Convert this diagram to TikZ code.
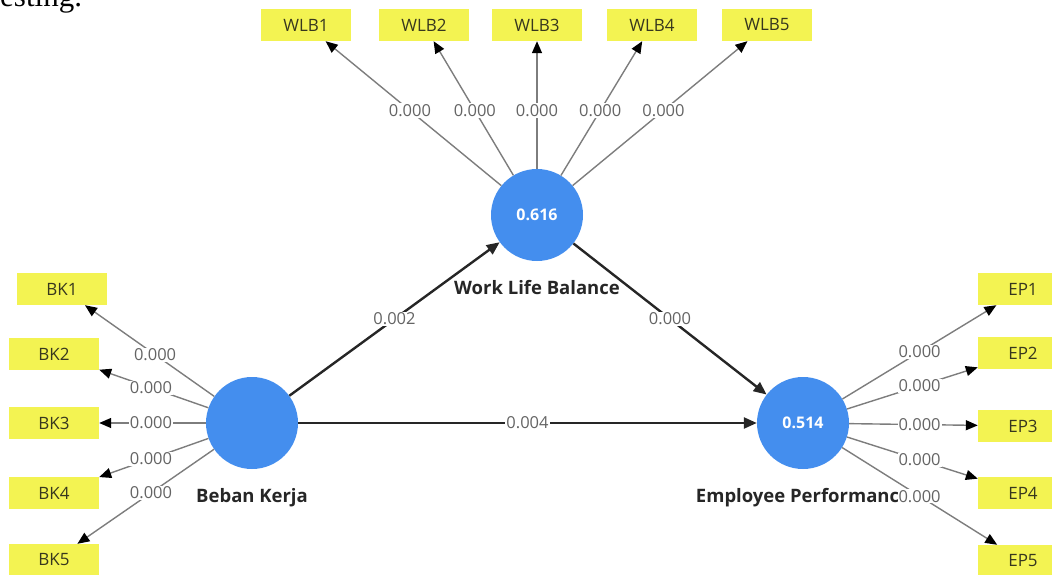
\documentclass[tikz,border=0pt]{standalone}
\usepackage{fontspec}
\setmainfont{Open Sans}
\newfontfamily\serifface{Liberation Serif}
\usetikzlibrary{arrows.meta,calc}
\definecolor{lvblue}{RGB}{68,142,238}
\definecolor{indyellow}{RGB}{243,243,82}
\definecolor{linegray}{RGB}{125,125,125}
\definecolor{lblgray}{RGB}{100,100,100}
\definecolor{textdark}{RGB}{55,55,30}
\begin{document}
\begin{tikzpicture}[x=1pt,y=-1pt,
  lv/.style={circle,fill=lvblue,minimum size=92pt,inner sep=0pt,text=white,font=\bfseries\fontsize{16}{16}\selectfont},
  ind/.style={rectangle,fill=indyellow,minimum width=90pt,minimum height=32pt,inner sep=0pt,text=textdark,font=\fontsize{17}{17}\selectfont},
  lbl/.style={fill=white,inner sep=1pt,text=lblgray,font=\fontsize{16.5}{16.5}\selectfont},
  lvname/.style={text=black!85,font=\bfseries\fontsize{18.5}{18.5}\selectfont},
  indarr/.style={draw=linegray,line width=1.4pt,-{Triangle[length=12pt,width=10pt,color=black]}},
  strarr/.style={draw=black!85,line width=2.4pt,-{Triangle[length=13pt,width=11pt]}}]
\useasboundingbox (0,0) rectangle (1052,575);
\clip (0,0) rectangle (1052,575);
\node[font=\serifface\fontsize{31}{31}\selectfont,anchor=base west,inner sep=0pt] (top) at (0,7) {esting.};
% latent variables
\node[lv] (wlb) at (537,215) {0.616};
\node[lv] (bk) at (252,423) {};
\node[lv] (ep) at (803,423) {0.514};
% indicators
\node[ind] (w1) at (306,25) {WLB1};
\node[ind] (w2) at (424,25) {WLB2};
\node[ind] (w3) at (537,25) {WLB3};
\node[ind] (w4) at (652,25) {WLB4};
\node[ind] (w5) at (767,25) {WLB5};
\node[ind] (b1) at (62,289) {BK1};
\node[ind] (b2) at (54,354) {BK2};
\node[ind] (b3) at (54,423) {BK3};
\node[ind] (b4) at (54,493) {BK4};
\node[ind] (b5) at (54,560) {BK5};
\node[ind] (e1) at (1023,289) {EP1};
\node[ind] (e2) at (1023,353) {EP2};
\node[ind] (e3) at (1023,426) {EP3};
\node[ind] (e4) at (1023,493) {EP4};
\node[ind] (e5) at (1023,561) {EP5};
% indicator arrows
\foreach \i in {1,...,5}{
  \draw[indarr] (wlb) -- (w\i);
  \draw[indarr] (bk) -- (b\i);
  \draw[indarr] (ep) -- (e\i);
}
% structural arrows
\draw[strarr] (bk) -- (wlb);
\draw[strarr] (wlb) -- (ep);
\draw[strarr] (bk) -- (ep);
% names
\node[lvname] (nwlb) at (537,288) {Work Life Balance};
\node[lvname] (nbk) at (252,498) {Beban Kerja};
\node[lvname] (nep) at (803,498) {Employee Performance};
% labels
\foreach \i in {1,...,5}{
  \node[lbl] at ($(wlb)!0.55!(w\i)$) {0.000};
  \node[lbl] at ($(bk)!0.51!(b\i)$) {0.000};
  \node[lbl] at ($(ep)!0.53!(e\i)$) {0.000};
}
\node[lbl] at ($(bk)!0.5!(wlb)$) {0.002};
\node[lbl] at ($(wlb)!0.5!(ep)$) {0.000};
\node[lbl] at ($(bk)!0.5!(ep)$) {0.004};
\end{tikzpicture}
\end{document}
